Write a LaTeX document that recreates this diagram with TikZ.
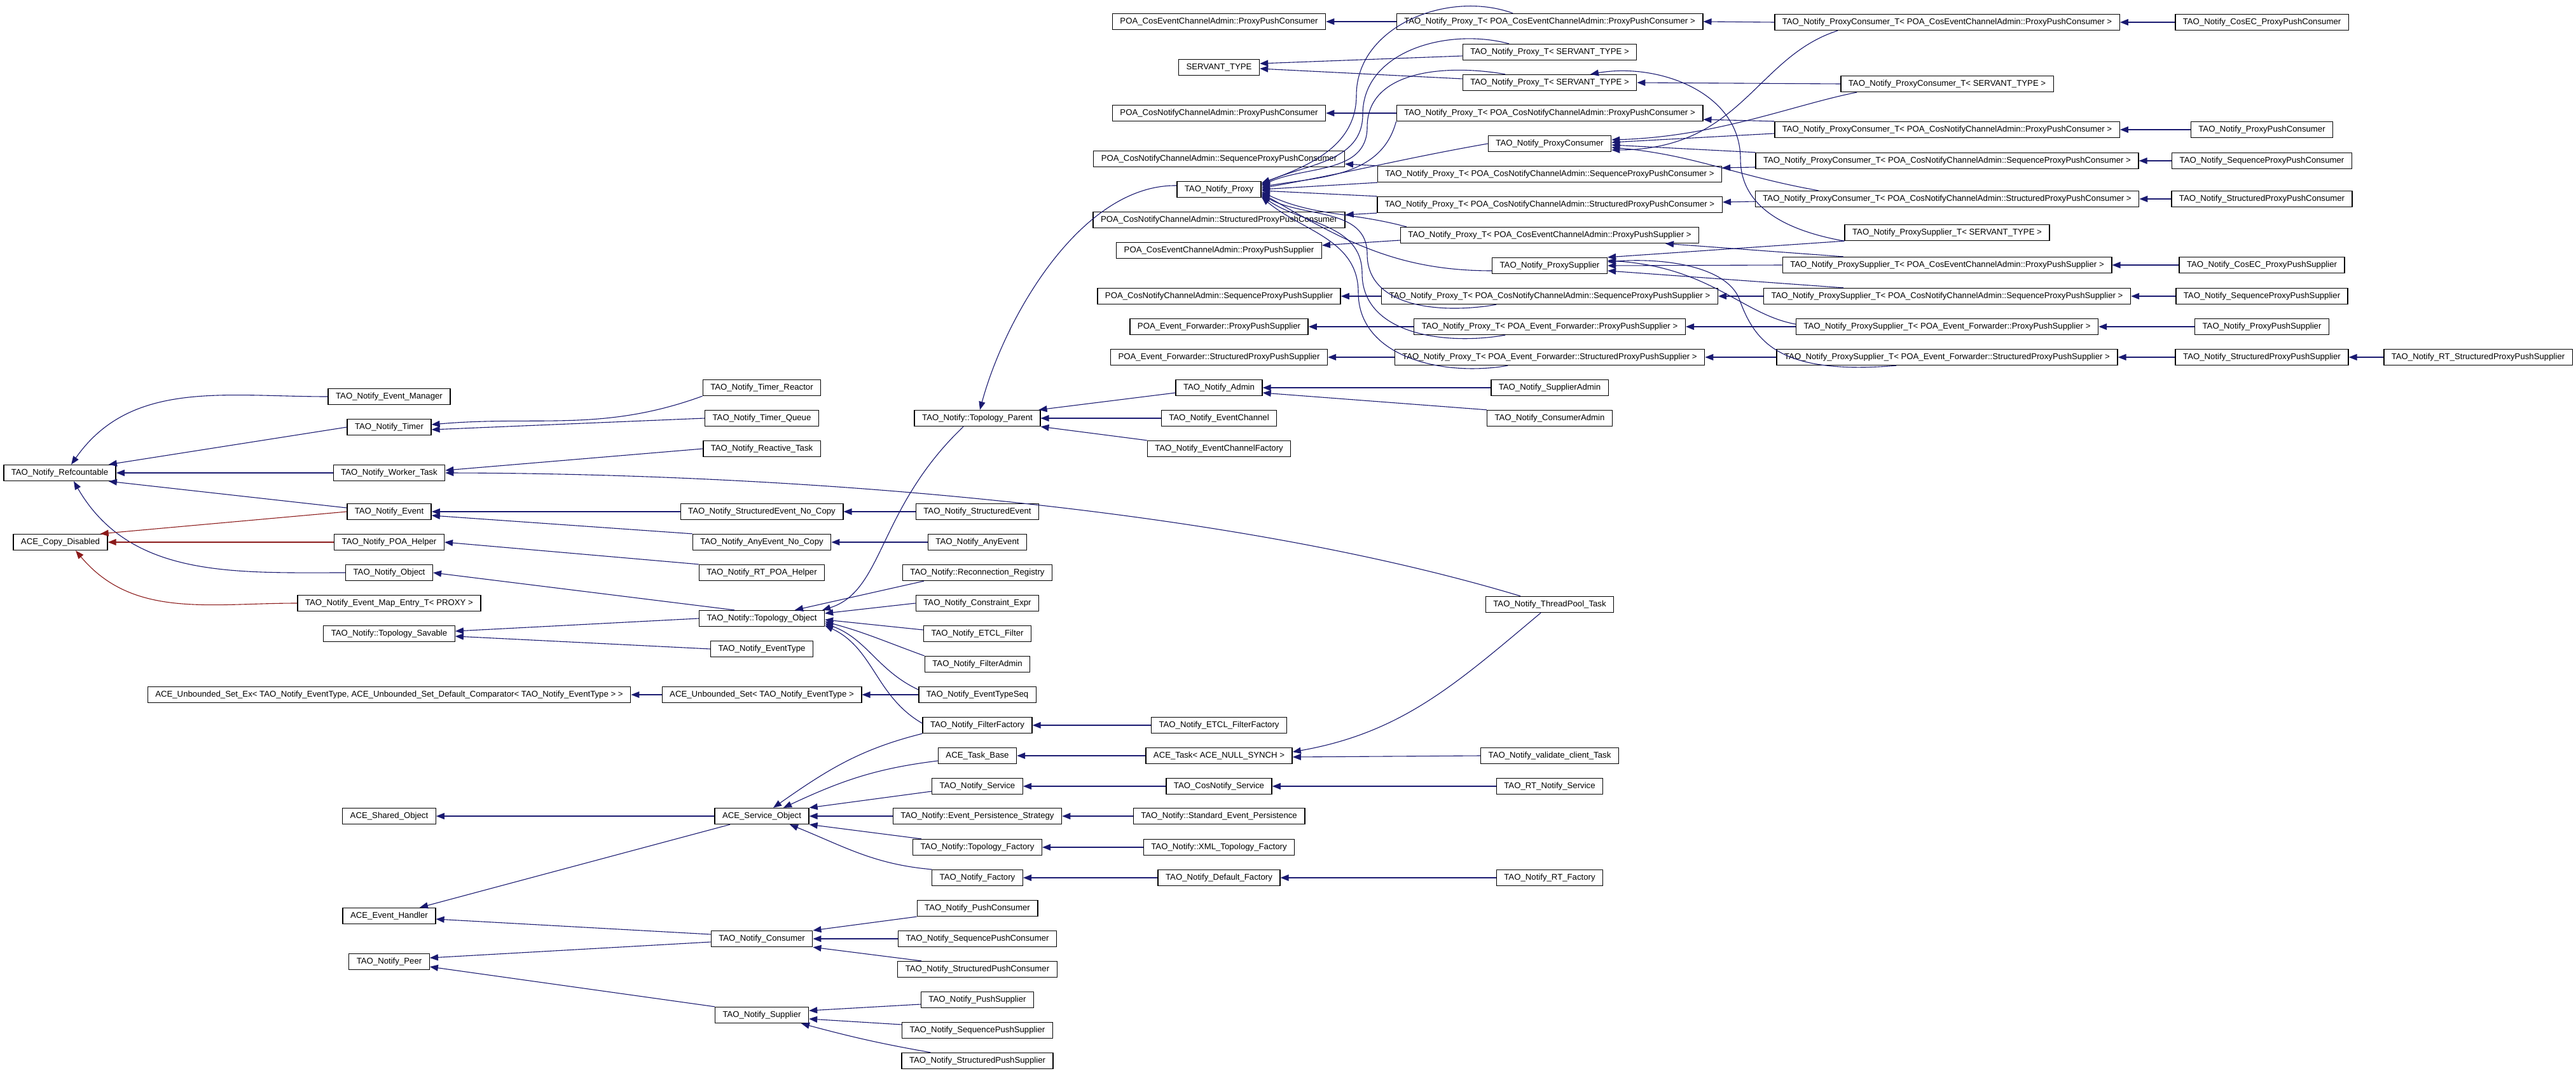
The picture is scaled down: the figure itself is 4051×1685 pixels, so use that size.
\documentclass[tikz,border=0pt]{standalone}
\usepackage{fontspec}
\setmainfont{Liberation Sans}
\usepackage{xcolor}
\usepackage{tikz}
\usetikzlibrary{arrows.meta}

\definecolor{midnight}{RGB}{25,25,112}
\definecolor{firebrick}{RGB}{139,26,26}

\begin{document}
\begin{tikzpicture}[->,>={Triangle[length=6.5pt,width=5pt]},x=0.5pt,y=-0.5pt,line width=0.55pt]
			\tikzstyle{cls}=[draw=black,fill=white,line width=0.7pt,font=\fontsize{6.6}{7}\selectfont,inner xsep=6pt,inner ysep=0pt,minimum height=12.5pt]
			\tikzstyle{pub}=[color=midnight]
			\tikzstyle{priv}=[color=firebrick]
			\useasboundingbox[fill=white] (0,0) rectangle (4051,1685);
			
			\node[cls] (refc) at (94,744) {TAO\_Notify\_Refcountable};
			\node[cls] (copyd) at (95,853) {ACE\_Copy\_Disabled};
			
			\node[cls] (evmgr) at (612,624) {TAO\_Notify\_Event\_Manager};
			\node[cls] (timer) at (612,672) {TAO\_Notify\_Timer};
			\node[cls] (worker) at (612,744) {TAO\_Notify\_Worker\_Task};
			\node[cls] (event) at (612,805) {TAO\_Notify\_Event};
			\node[cls] (poahelper) at (612,853) {TAO\_Notify\_POA\_Helper};
			\node[cls] (object) at (612,901) {TAO\_Notify\_Object};
			\node[cls] (evmap) at (612,949) {TAO\_Notify\_Event\_Map\_Entry\_T< PROXY >};
			\node[cls] (savable) at (612,997) {TAO\_Notify::Topology\_Savable};
			\node[cls] (usetex) at (612,1093) {ACE\_Unbounded\_Set\_Ex< TAO\_Notify\_EventType, ACE\_Unbounded\_Set\_Default\_Comparator< TAO\_Notify\_EventType > >};
			\node[cls] (sharedobj) at (612,1284) {ACE\_Shared\_Object};
			\node[cls] (evhandler) at (612,1441) {ACE\_Event\_Handler};
			\node[cls] (peer) at (612,1513) {TAO\_Notify\_Peer};
			
			\node[cls] (tr) at (1198,610) {TAO\_Notify\_Timer\_Reactor};
			\node[cls] (tq) at (1198,658) {TAO\_Notify\_Timer\_Queue};
			\node[cls] (reactive) at (1198,706) {TAO\_Notify\_Reactive\_Task};
			\node[cls] (sevnc) at (1198,805) {TAO\_Notify\_StructuredEvent\_No\_Copy};
			\node[cls] (aenc) at (1198,853) {TAO\_Notify\_AnyEvent\_No\_Copy};
			\node[cls] (rtpoa) at (1198,901) {TAO\_Notify\_RT\_POA\_Helper};
			\node[cls] (topobj) at (1198,973) {TAO\_Notify::Topology\_Object};
			\node[cls] (eventtype) at (1198,1021) {TAO\_Notify\_EventType};
			\node[cls] (uset) at (1198,1093) {ACE\_Unbounded\_Set< TAO\_Notify\_EventType >};
			\node[cls] (servobj) at (1198,1284) {ACE\_Service\_Object};
			\node[cls] (consumer) at (1198,1477) {TAO\_Notify\_Consumer};
			\node[cls] (supplier) at (1198,1597) {TAO\_Notify\_Supplier};
			
			\node[cls] (topparent) at (1537,658) {TAO\_Notify::Topology\_Parent};
			\node[cls] (sevent) at (1537,805) {TAO\_Notify\_StructuredEvent};
			\node[cls] (anyevent) at (1537,853) {TAO\_Notify\_AnyEvent};
			\node[cls] (reconn) at (1537,901) {TAO\_Notify::Reconnection\_Registry};
			\node[cls] (constraint) at (1537,949) {TAO\_Notify\_Constraint\_Expr};
			\node[cls] (etclfilter) at (1537,997) {TAO\_Notify\_ETCL\_Filter};
			\node[cls] (filteradmin) at (1537,1045) {TAO\_Notify\_FilterAdmin};
			\node[cls] (evtypeseq) at (1537,1093) {TAO\_Notify\_EventTypeSeq};
			\node[cls] (filterfactory) at (1537,1141) {TAO\_Notify\_FilterFactory};
			\node[cls] (taskbase) at (1537,1189) {ACE\_Task\_Base};
			\node[cls] (service) at (1537,1237) {TAO\_Notify\_Service};
			\node[cls] (evpersist) at (1537,1284) {TAO\_Notify::Event\_Persistence\_Strategy};
			\node[cls] (topofactory) at (1537,1333) {TAO\_Notify::Topology\_Factory};
			\node[cls] (factory) at (1537,1381) {TAO\_Notify\_Factory};
			\node[cls] (pushcons) at (1537,1429) {TAO\_Notify\_PushConsumer};
			\node[cls] (seqpushcons) at (1537,1477) {TAO\_Notify\_SequencePushConsumer};
			\node[cls] (strpushcons) at (1537,1525) {TAO\_Notify\_StructuredPushConsumer};
			\node[cls] (pushsupp) at (1537,1573) {TAO\_Notify\_PushSupplier};
			\node[cls] (seqpushsupp) at (1537,1621) {TAO\_Notify\_SequencePushSupplier};
			\node[cls] (strpushsupp) at (1537,1669) {TAO\_Notify\_StructuredPushSupplier};
			
			\node[cls] (poacecppc) at (1917,34) {POA\_CosEventChannelAdmin::ProxyPushConsumer};
			\node[cls] (servant) at (1917,106) {SERVANT\_TYPE};
			\node[cls] (poacnppc) at (1917,178) {POA\_CosNotifyChannelAdmin::ProxyPushConsumer};
			\node[cls] (poaseqppc) at (1917,250) {POA\_CosNotifyChannelAdmin::SequenceProxyPushConsumer};
			\node[cls] (proxy) at (1917,298) {TAO\_Notify\_Proxy};
			\node[cls] (poastrppc) at (1917,346) {POA\_CosNotifyChannelAdmin::StructuredProxyPushConsumer};
			\node[cls] (poacecpps) at (1917,394) {POA\_CosEventChannelAdmin::ProxyPushSupplier};
			\node[cls] (poaseqpps) at (1917,466) {POA\_CosNotifyChannelAdmin::SequenceProxyPushSupplier};
			\node[cls] (poaefpps) at (1917,514) {POA\_Event\_Forwarder::ProxyPushSupplier};
			\node[cls] (poaefspps) at (1917,562) {POA\_Event\_Forwarder::StructuredProxyPushSupplier};
			\node[cls] (admin) at (1917,610) {TAO\_Notify\_Admin};
			\node[cls] (eventchannel) at (1917,658) {TAO\_Notify\_EventChannel};
			\node[cls] (ecfactory) at (1917,706) {TAO\_Notify\_EventChannelFactory};
			\node[cls] (etclff) at (1917,1141) {TAO\_Notify\_ETCL\_FilterFactory};
			\node[cls] (acetask) at (1917,1189) {ACE\_Task< ACE\_NULL\_SYNCH >};
			\node[cls] (cosnotifyservice) at (1917,1237) {TAO\_CosNotify\_Service};
			\node[cls] (stdpersist) at (1917,1284) {TAO\_Notify::Standard\_Event\_Persistence};
			\node[cls] (xmltopo) at (1917,1333) {TAO\_Notify::XML\_Topology\_Factory};
			\node[cls] (deffactory) at (1917,1381) {TAO\_Notify\_Default\_Factory};
			
			\node[cls] (ptcecppc) at (2437,34) {TAO\_Notify\_Proxy\_T< POA\_CosEventChannelAdmin::ProxyPushConsumer >};
			\node[cls] (pts1) at (2437,82) {TAO\_Notify\_Proxy\_T< SERVANT\_TYPE >};
			\node[cls] (pts2) at (2437,130) {TAO\_Notify\_Proxy\_T< SERVANT\_TYPE >};
			\node[cls] (ptcnppc) at (2437,178) {TAO\_Notify\_Proxy\_T< POA\_CosNotifyChannelAdmin::ProxyPushConsumer >};
			\node[cls] (pc) at (2437,226) {TAO\_Notify\_ProxyConsumer};
			\node[cls] (ptseqppc) at (2437,274) {TAO\_Notify\_Proxy\_T< POA\_CosNotifyChannelAdmin::SequenceProxyPushConsumer >};
			\node[cls] (ptstrppc) at (2437,322) {TAO\_Notify\_Proxy\_T< POA\_CosNotifyChannelAdmin::StructuredProxyPushConsumer >};
			\node[cls] (ptcecpps) at (2437,370) {TAO\_Notify\_Proxy\_T< POA\_CosEventChannelAdmin::ProxyPushSupplier >};
			\node[cls] (ps) at (2437,418) {TAO\_Notify\_ProxySupplier};
			\node[cls] (ptseqpps) at (2437,466) {TAO\_Notify\_Proxy\_T< POA\_CosNotifyChannelAdmin::SequenceProxyPushSupplier >};
			\node[cls] (ptefpps) at (2437,514) {TAO\_Notify\_Proxy\_T< POA\_Event\_Forwarder::ProxyPushSupplier >};
			\node[cls] (ptefspps) at (2437,562) {TAO\_Notify\_Proxy\_T< POA\_Event\_Forwarder::StructuredProxyPushSupplier >};
			\node[cls] (supplieradmin) at (2437,610) {TAO\_Notify\_SupplierAdmin};
			\node[cls] (consumeradmin) at (2437,658) {TAO\_Notify\_ConsumerAdmin};
			\node[cls] (threadpool) at (2437,951) {TAO\_Notify\_ThreadPool\_Task};
			\node[cls] (validate) at (2437,1189) {TAO\_Notify\_validate\_client\_Task};
			\node[cls] (rtnotifyservice) at (2437,1237) {TAO\_RT\_Notify\_Service};
			\node[cls] (rtfactory) at (2437,1381) {TAO\_Notify\_RT\_Factory};
			
			\node[cls] (pctcec) at (3062,35) {TAO\_Notify\_ProxyConsumer\_T< POA\_CosEventChannelAdmin::ProxyPushConsumer >};
			\node[cls] (pctst) at (3062,132) {TAO\_Notify\_ProxyConsumer\_T< SERVANT\_TYPE >};
			\node[cls] (pctcn) at (3062,204) {TAO\_Notify\_ProxyConsumer\_T< POA\_CosNotifyChannelAdmin::ProxyPushConsumer >};
			\node[cls] (pctseq) at (3062,253) {TAO\_Notify\_ProxyConsumer\_T< POA\_CosNotifyChannelAdmin::SequenceProxyPushConsumer >};
			\node[cls] (pctstr) at (3062,313) {TAO\_Notify\_ProxyConsumer\_T< POA\_CosNotifyChannelAdmin::StructuredProxyPushConsumer >};
			\node[cls] (pstst) at (3062,366) {TAO\_Notify\_ProxySupplier\_T< SERVANT\_TYPE >};
			\node[cls] (pstcec) at (3062,417) {TAO\_Notify\_ProxySupplier\_T< POA\_CosEventChannelAdmin::ProxyPushSupplier >};
			\node[cls] (pstseq) at (3062,466) {TAO\_Notify\_ProxySupplier\_T< POA\_CosNotifyChannelAdmin::SequenceProxyPushSupplier >};
			\node[cls] (pstef) at (3062,514) {TAO\_Notify\_ProxySupplier\_T< POA\_Event\_Forwarder::ProxyPushSupplier >};
			\node[cls] (pstefs) at (3062,562) {TAO\_Notify\_ProxySupplier\_T< POA\_Event\_Forwarder::StructuredProxyPushSupplier >};
			
			\node[cls] (cosecppc) at (3557,35) {TAO\_Notify\_CosEC\_ProxyPushConsumer};
			\node[cls] (ppc) at (3557,204) {TAO\_Notify\_ProxyPushConsumer};
			\node[cls] (seqppc) at (3557,253) {TAO\_Notify\_SequenceProxyPushConsumer};
			\node[cls] (strppc) at (3557,313) {TAO\_Notify\_StructuredProxyPushConsumer};
			\node[cls] (cosecpps) at (3557,417) {TAO\_Notify\_CosEC\_ProxyPushSupplier};
			\node[cls] (seqpps) at (3557,466) {TAO\_Notify\_SequenceProxyPushSupplier};
			\node[cls] (pps) at (3557,514) {TAO\_Notify\_ProxyPushSupplier};
			\node[cls] (strpps) at (3557,562) {TAO\_Notify\_StructuredProxyPushSupplier};
			\node[cls] (rtstrpps) at (3897,562) {TAO\_Notify\_RT\_StructuredProxyPushSupplier};
			
			\path[pub] (evmgr.west) edge[out=180,in=55] ([xshift=9pt]refc.north)
			(timer.west) edge ([xshift=-6pt]refc.north east)
			(worker.west) edge (refc.east)
			([yshift=3pt]event.west) edge ([xshift=-6pt]refc.south east)
			(object.west) edge[out=180,in=-60] ([xshift=11pt]refc.south);
			\path[priv] (event.west) edge ([xshift=-6pt]copyd.north east)
			(poahelper.west) edge (copyd.east)
			(evmap.west) edge[out=180,in=-50] ([xshift=12pt]copyd.south);
			
			\path[pub] (tr.south west) edge[out=200,in=5] ([yshift=2pt]timer.east)
			(tq.west) edge ([yshift=-2pt]timer.east)
			(reactive.west) edge ([yshift=2pt]worker.east)
			(sevnc.west) edge (event.east)
			(aenc.north west) edge ([yshift=-3pt]event.east)
			(rtpoa.north west) edge (poahelper.east)
			([xshift=28pt]topobj.north west) edge (object.east)
			(topobj.west) edge ([yshift=2pt]savable.east)
			(eventtype.west) edge ([yshift=-2pt]savable.east)
			(uset.west) edge (usetex.east)
			(servobj.west) edge (sharedobj.east)
			([xshift=-25pt]servobj.south) edge ([xshift=24pt]evhandler.north)
			([yshift=3.5pt]consumer.west) edge ([yshift=-2.5pt]evhandler.east)
			([yshift=-2.5pt]consumer.west) edge ([yshift=3pt]peer.east)
			(supplier.north west) edge ([yshift=-4pt]peer.east);
			
			\draw[pub] ([xshift=-11pt]topparent.south) .. controls (1380,800) and (1390,930) .. ([xshift=-2pt]topobj.north east);
			\path[pub] (sevent.west) edge (sevnc.east)
			(anyevent.west) edge (aenc.east)
			([xshift=17pt]reconn.south west) edge ([xshift=26pt]topobj.north)
			(constraint.west) edge ([yshift=4pt]topobj.east)
			([yshift=3pt]etclfilter.west) edge ([yshift=-1pt]topobj.east)
			(filteradmin.north west) edge[out=160,in=-15] ([yshift=-2.5pt]topobj.east)
			([yshift=4pt]evtypeseq.west) edge[out=155,in=-20] ([yshift=-4pt]topobj.east)
			([yshift=1.5pt]filterfactory.west) edge[out=150,in=-25] ([yshift=-5.5pt]topobj.east)
			(evtypeseq.west) edge (uset.east)
			(filterfactory.south west) edge[out=194,in=35] ([xshift=9pt]servobj.north)
			([yshift=-4pt]taskbase.west) edge[out=187,in=25] ([xshift=17pt]servobj.north)
			([yshift=-4pt]service.west) edge (servobj.north east)
			(evpersist.west) edge (servobj.east)
			([xshift=7pt]topofactory.north west) edge (servobj.south east)
			(factory.north west) edge[out=175,in=-22] ([xshift=22pt]servobj.south)
			(pushcons.south west) edge (consumer.north east)
			(seqpushcons.west) edge (consumer.east)
			([xshift=19pt]strpushcons.north west) edge (consumer.south east)
			([yshift=-3.5pt]pushsupp.west) edge ([yshift=3.5pt]supplier.east)
			([yshift=4.5pt]seqpushsupp.west) edge ([yshift=-3pt]supplier.east)
			([xshift=23pt]strpushsupp.north west) edge[out=170,in=-15] ([xshift=31pt]supplier.south);
			
			\draw[pub] ([yshift=3pt]proxy.west) .. controls (1700,290) and (1580,500) .. ([xshift=2pt]topparent.north);
			\path[pub] ([yshift=-4pt]admin.west) edge ([xshift=-1.5pt]topparent.north east)
			(eventchannel.west) edge (topparent.east)
			(ecfactory.north west) edge (topparent.south east)
			(etclff.west) edge (filterfactory.east)
			(acetask.west) edge (taskbase.east)
			(cosnotifyservice.west) edge (service.east)
			(stdpersist.west) edge (evpersist.east)
			(xmltopo.west) edge (topofactory.east)
			(deffactory.west) edge (factory.east);
			
			\draw[pub] ([xshift=-23pt]threadpool.north) .. controls (1900,790) and (1200,745) .. (worker.east);
			\path[pub] (supplieradmin.west) edge (admin.east)
			(consumeradmin.north west) edge ([yshift=-4pt]admin.east)
			([xshift=-7pt]threadpool.south) edge[out=-140,in=10] ([yshift=3pt]acetask.east)
			(validate.west) edge ([yshift=-1pt]acetask.east)
			(rtnotifyservice.west) edge (cosnotifyservice.east)
			(rtfactory.west) edge (deffactory.east);
			
			\path[pub] (ptcecppc.west) edge (poacecppc.east)
			([yshift=-3pt]pts1.west) edge ([yshift=3pt]servant.east)
			([yshift=3pt]pts2.west) edge ([yshift=-1pt]servant.east)
			(ptcnppc.west) edge (poacnppc.east)
			(ptseqppc.north west) edge ([yshift=-4pt]poaseqppc.east)
			(ptstrppc.south west) edge ([yshift=4pt]poastrppc.east)
			([yshift=-4pt]ptcecpps.west) edge ([yshift=4pt]poacecpps.east)
			(ptseqpps.west) edge (poaseqpps.east)
			(ptefpps.west) edge (poaefpps.east)
			(ptefspps.west) edge (poaefspps.east);
			
			\draw[pub] ([xshift=-29pt]ptcecppc.north) to[out=160,in=90] (2133,150) to[out=-90,in=20] ([yshift=5pt]proxy.east);
			\draw[pub] ([xshift=-32pt]pts1.north) to[out=165,in=90] (2143,180) to[out=-90,in=25] ([yshift=4pt]proxy.east);
			\draw[pub] ([xshift=-35pt]pts2.north) to[out=170,in=90] (2150,200) to[out=-90,in=25] ([yshift=3pt]proxy.east);
			\draw[pub] ([xshift=-42pt]ptseqpps.south) to[out=-170,in=-90] (2150,400) to[out=90,in=-30] ([yshift=-4pt]proxy.east);
			\draw[pub] ([xshift=-35pt]ptefpps.south) to[out=-170,in=-90] (2142,430) to[out=90,in=-35] ([yshift=-5pt]proxy.east);
			\draw[pub] ([xshift=-33pt]ptefspps.south) to[out=-170,in=-90] (2136,460) to[out=90,in=-40] ([yshift=-6pt]proxy.east);
			\path[pub] (ptcnppc.south west) edge[out=-105,in=10] ([yshift=2pt]proxy.east)
			(pc.west) edge[out=190,in=10] ([yshift=1pt]proxy.east)
			(ptseqppc.south west) edge (proxy.east)
			(ptstrppc.north west) edge ([yshift=-1pt]proxy.east)
			([xshift=5pt]ptcecpps.north west) edge[out=165,in=-25] ([yshift=-2pt]proxy.east)
			([yshift=-4pt]ps.west) edge[out=180,in=-30] ([yshift=-3pt]proxy.east);
			
			\draw[pub] ([xshift=50pt]pctcec.south west) .. controls (2760,90) and (2740,235) .. ([yshift=-5pt]pc.east);
			\draw[pub] ([xshift=13pt]pctst.south west) .. controls (2820,165) and (2700,215) .. ([yshift=3pt]pc.east);
			\path[pub] (pctcec.west) edge (ptcecppc.east)
			(pctst.west) edge (pts2.east)
			(pctcn.north west) edge ([yshift=-5pt]ptcnppc.east)
			([yshift=-3pt]pctcn.west) edge ([yshift=1pt]pc.east)
			([yshift=-5pt]pctseq.west) edge ([yshift=5pt]ptseqppc.east)
			(pctseq.north west) edge ([yshift=-1pt]pc.east)
			([yshift=-2pt]pctstr.west) edge ([yshift=2pt]ptstrppc.east)
			([xshift=50pt]pctstr.north west) edge[out=170,in=-5] ([yshift=-3pt]pc.east);
			
			\draw[pub] (pstst.south west) to[out=170,in=-90] (2737,250) to[out=90,in=10] ([xshift=32pt]pts2.north);
			\draw[pub] ([yshift=2pt]pstef.west) .. controls (2740,495) and (2690,420) .. ([yshift=4pt]ps.east);
			\draw[pub] ([xshift=-40pt]pstefs.south) .. controls (2800,590) and (2760,540) .. (2735,470) .. controls (2715,420) and (2620,405) .. ([yshift=3pt]ps.east);
			\path[pub] (pstst.south west) edge (ps.north east)
			([xshift=48pt]pstcec.north west) edge ([xshift=91pt]ptcecpps.south)
			(pstcec.west) edge (ps.east)
			(pstseq.west) edge (ptseqpps.east)
			([xshift=63pt]pstseq.north west) edge ([yshift=-4pt]ps.east)
			(pstef.west) edge (ptefpps.east)
			(pstefs.west) edge (ptefspps.east);
			
			\path[pub] (cosecppc.west) edge (pctcec.east)
			(ppc.west) edge (pctcn.east)
			(seqppc.west) edge (pctseq.east)
			(strppc.west) edge (pctstr.east)
			(cosecpps.west) edge (pstcec.east)
			(seqpps.west) edge (pstseq.east)
			(pps.west) edge (pstef.east)
			(strpps.west) edge (pstefs.east)
			(rtstrpps.west) edge (strpps.east);
		\end{tikzpicture}
\end{document}
